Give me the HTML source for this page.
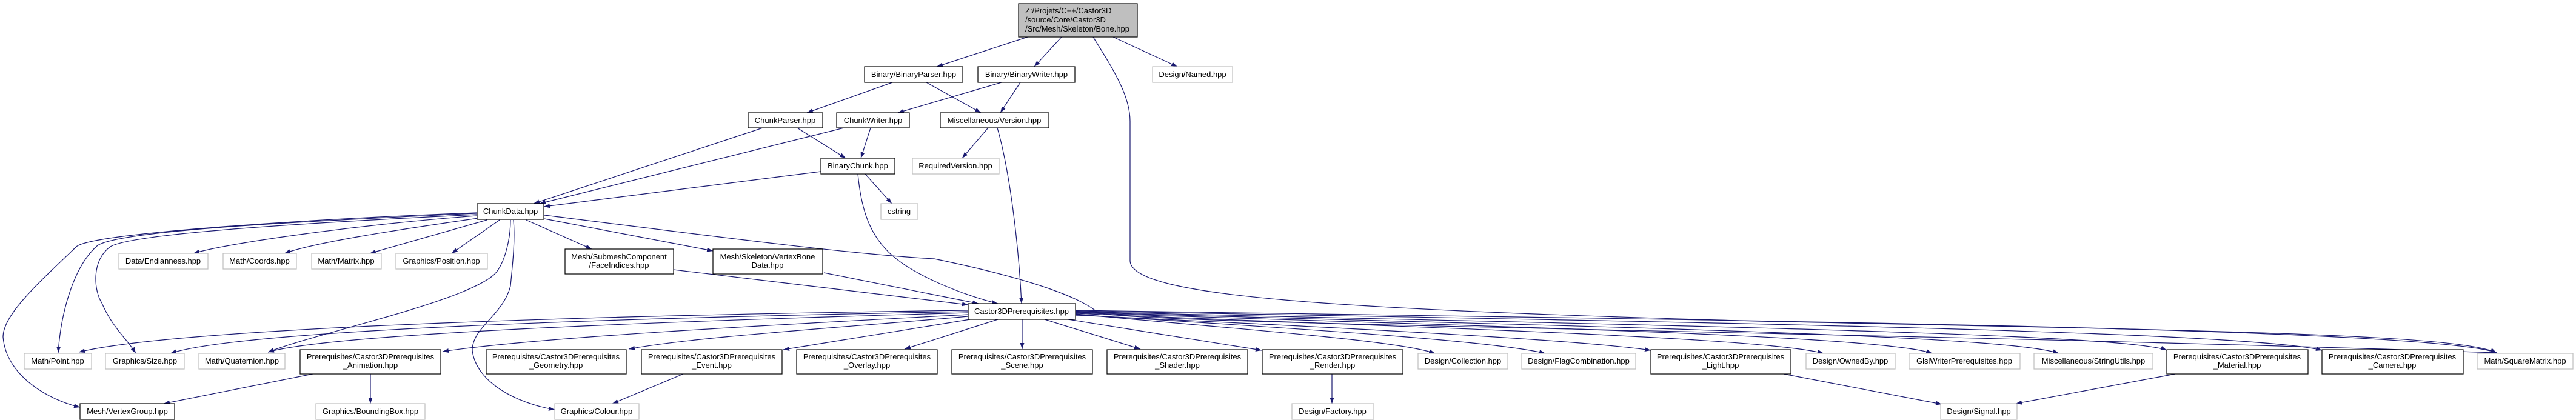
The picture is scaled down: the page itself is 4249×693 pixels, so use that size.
<!DOCTYPE html>
<html><head><meta charset="utf-8"><style>
html,body{margin:0;padding:0;background:#fff;}
svg{display:block;}
text{font-family:"Liberation Sans",Arial,sans-serif;font-size:13px;fill:#000;}
.n{fill:#fff;stroke:#000;stroke-width:1.2;}
.g{fill:#fff;stroke:#bfbfbf;stroke-width:1.2;}
.e{fill:none;stroke:#191970;stroke-width:1.2;marker-end:url(#a);}
</style></head><body>
<svg width="4249" height="693" viewBox="0 0 4249 693" xmlns="http://www.w3.org/2000/svg">
<defs><marker id="a" markerUnits="userSpaceOnUse" markerWidth="11" markerHeight="8" refX="10" refY="3.5" orient="auto"><path d="M0,0 L10,3.5 L0,7 z" fill="#191970"/></marker></defs>

<!-- edges -->
<path class="e" d="M1695,61 L1545,110"/>
<path class="e" d="M1751,61 L1706,110"/>
<path class="e" d="M1836,61 L1942,110"/>
<path class="e" d="M1803,61 C1840,120 1864,160 1864,200 L1864,430 C1864,490 2200,510 2900,530 C3600,545 4050,550 4118,582"/>
<path class="e" d="M1472,136 L1331,186"/>
<path class="e" d="M1528,136 L1618,186"/>
<path class="e" d="M1652,136 L1481,186"/>
<path class="e" d="M1683,136 L1650,186"/>
<path class="e" d="M1258,211 L880,336"/>
<path class="e" d="M1392,211 L890,336"/>
<path class="e" d="M1315,211 L1395,261"/>
<path class="e" d="M1436,211 L1420,261"/>
<path class="e" d="M1629,212 L1587,261"/>
<path class="e" d="M1645,211 C1665,280 1680,400 1685,501"/>
<path class="e" d="M1354,283 L897,341"/>
<path class="e" d="M1427,287 L1471,336"/>
<path class="e" d="M1415,287 C1420,340 1432,380 1460,410 C1500,455 1600,490 1646,501"/>
<path class="e" d="M786,356 C600,370 380,400 319,418"/>
<path class="e" d="M789,360 C650,380 520,400 469,418"/>
<path class="e" d="M803,363 L610,418"/>
<path class="e" d="M824,363 L745,418"/>
<path class="e" d="M868,363 L976,411"/>
<path class="e" d="M898,361 L1176,414"/>
<path class="e" d="M786,352 C500,365 200,380 161,405 C120,440 100,520 96,582"/>
<path class="e" d="M786,354 C500,368 220,385 182,407 C150,430 155,480 168,500 C185,540 210,560 224,583"/>
<path class="e" d="M786,351 C500,362 150,385 126,407 C60,470 5,520 5,556 C10,620 80,660 132,672"/>
<path class="e" d="M842,363 C842,400 830,440 814,454 C760,500 520,550 442,581"/>
<path class="e" d="M847,363 C850,400 845,440 842,472 C830,520 779,540 779,578 C785,630 850,665 915,676"/>
<path class="e" d="M898,355 C1100,380 1400,420 1541,427 C1700,460 1780,490 1810,515 C1830,535 3000,545 4118,582"/>
<path class="e" d="M1111,445 L1597,503"/>
<path class="e" d="M1359,450 L1614,501"/>
<path class="e" d="M1597,512 C1000,520 300,540 130,581"/>
<path class="e" d="M1597,514 C1000,525 400,545 281,583"/>
<path class="e" d="M1597,516 C1100,530 550,550 442,581"/>
<path class="e" d="M1597,519 C1300,535 900,555 730,580"/>
<path class="e" d="M1597,522 C1400,540 1150,555 1037,576"/>
<path class="e" d="M1600,527 L1292,577"/>
<path class="e" d="M1646,527 L1492,576"/>
<path class="e" d="M1686,527 L1686,576"/>
<path class="e" d="M1723,527 L1881,576"/>
<path class="e" d="M1762,527 L2081,578"/>
<path class="e" d="M1774,518 C2000,540 2300,560 2367,583"/>
<path class="e" d="M1774,519 C2100,540 2450,560 2549,583"/>
<path class="e" d="M1774,520 C2200,540 2600,560 2723,578"/>
<path class="e" d="M1774,517 C2300,540 2900,555 3008,583"/>
<path class="e" d="M1774,516 C2400,538 3100,552 3187,583"/>
<path class="e" d="M1774,515 C2500,537 3300,550 3396,583"/>
<path class="e" d="M1774,514 C2600,535 3500,548 3574,578"/>
<path class="e" d="M1774,513 C2700,530 3700,545 3830,578"/>
<path class="e" d="M1774,512 C2800,528 4000,540 4118,582"/>
<path class="e" d="M516,617 L270,666"/>
<path class="e" d="M611,617 L611,666"/>
<path class="e" d="M1127,617 L1010,666"/>
<path class="e" d="M2197,617 L2197,666"/>
<path class="e" d="M2942,617 L3203,667"/>
<path class="e" d="M3588,617 L3325,666"/>

<!-- nodes -->
<rect x="1680" y="6" width="196" height="55" fill="#bfbfbf" stroke="#000" stroke-width="1.2"/>
<text x="1691" y="22">Z:/Projets/C++/Castor3D</text>
<text x="1691" y="37">/source/Core/Castor3D</text>
<text x="1691" y="52">/Src/Mesh/Skeleton/Bone.hpp</text>

<g text-anchor="middle">
<rect class="n" x="1426" y="110" width="162" height="26"/><text x="1507" y="127">Binary/BinaryParser.hpp</text>
<rect class="n" x="1613" y="110" width="160" height="26"/><text x="1693" y="127">Binary/BinaryWriter.hpp</text>
<rect class="g" x="1901" y="110" width="132" height="26"/><text x="1967" y="127">Design/Named.hpp</text>
<rect class="n" x="1234" y="186" width="123" height="25"/><text x="1295" y="203">ChunkParser.hpp</text>
<rect class="n" x="1380" y="186" width="120" height="25"/><text x="1440" y="203">ChunkWriter.hpp</text>
<rect class="n" x="1551" y="186" width="179" height="25"/><text x="1640" y="203">Miscellaneous/Version.hpp</text>
<rect class="n" x="1354" y="261" width="122" height="26"/><text x="1415" y="278">BinaryChunk.hpp</text>
<rect class="g" x="1505" y="261" width="143" height="26"/><text x="1576" y="278">RequiredVersion.hpp</text>
<rect class="g" x="1453" y="336" width="61" height="26"/><text x="1483" y="353">cstring</text>
<rect class="n" x="787" y="336" width="110" height="26"/><text x="842" y="353">ChunkData.hpp</text>
<rect class="g" x="196" y="418" width="147" height="26"/><text x="269" y="435">Data/Endianness.hpp</text>
<rect class="g" x="368" y="418" width="121" height="26"/><text x="428" y="435">Math/Coords.hpp</text>
<rect class="g" x="514" y="418" width="115" height="26"/><text x="571" y="435">Math/Matrix.hpp</text>
<rect class="g" x="653" y="418" width="151" height="26"/><text x="728" y="435">Graphics/Position.hpp</text>
<rect class="n" x="932" y="411" width="179" height="41"/><text x="1021" y="428">Mesh/SubmeshComponent</text><text x="1021" y="442">/FaceIndices.hpp</text>
<rect class="n" x="1176" y="411" width="181" height="41"/><text x="1266" y="428">Mesh/Skeleton/VertexBone</text><text x="1266" y="442">Data.hpp</text>
<rect class="n" x="1597" y="501" width="177" height="26"/><text x="1685" y="518">Castor3DPrerequisites.hpp</text>

<rect class="g" x="40" y="583" width="111" height="26"/><text x="95" y="600">Math/Point.hpp</text>
<rect class="g" x="174" y="583" width="130" height="26"/><text x="239" y="600">Graphics/Size.hpp</text>
<rect class="g" x="328" y="583" width="142" height="26"/><text x="399" y="600">Math/Quaternion.hpp</text>
<rect class="n" x="495" y="577" width="232" height="40"/><text x="611" y="593">Prerequisites/Castor3DPrerequisites</text><text x="611" y="607">_Animation.hpp</text>
<rect class="n" x="802" y="577" width="231" height="40"/><text x="917" y="593">Prerequisites/Castor3DPrerequisites</text><text x="917" y="607">_Geometry.hpp</text>
<rect class="n" x="1058" y="577" width="232" height="40"/><text x="1174" y="593">Prerequisites/Castor3DPrerequisites</text><text x="1174" y="607">_Event.hpp</text>
<rect class="n" x="1314" y="577" width="232" height="40"/><text x="1430" y="593">Prerequisites/Castor3DPrerequisites</text><text x="1430" y="607">_Overlay.hpp</text>
<rect class="n" x="1570" y="577" width="232" height="40"/><text x="1686" y="593">Prerequisites/Castor3DPrerequisites</text><text x="1686" y="607">_Scene.hpp</text>
<rect class="n" x="1826" y="577" width="232" height="40"/><text x="1942" y="593">Prerequisites/Castor3DPrerequisites</text><text x="1942" y="607">_Shader.hpp</text>
<rect class="n" x="2082" y="577" width="232" height="40"/><text x="2198" y="593">Prerequisites/Castor3DPrerequisites</text><text x="2198" y="607">_Render.hpp</text>
<rect class="g" x="2339" y="583" width="148" height="26"/><text x="2413" y="600">Design/Collection.hpp</text>
<rect class="g" x="2510" y="583" width="188" height="26"/><text x="2604" y="600">Design/FlagCombination.hpp</text>
<rect class="n" x="2723" y="577" width="231" height="40"/><text x="2838" y="593">Prerequisites/Castor3DPrerequisites</text><text x="2838" y="607">_Light.hpp</text>
<rect class="g" x="2979" y="583" width="147" height="26"/><text x="3052" y="600">Design/OwnedBy.hpp</text>
<rect class="g" x="3149" y="583" width="183" height="26"/><text x="3240" y="600">GlslWriterPrerequisites.hpp</text>
<rect class="g" x="3355" y="583" width="196" height="26"/><text x="3453" y="600">Miscellaneous/StringUtils.hpp</text>
<rect class="n" x="3574" y="577" width="233" height="40"/><text x="3690" y="593">Prerequisites/Castor3DPrerequisites</text><text x="3690" y="607">_Material.hpp</text>
<rect class="n" x="3830" y="577" width="233" height="40"/><text x="3946" y="593">Prerequisites/Castor3DPrerequisites</text><text x="3946" y="607">_Camera.hpp</text>
<rect class="g" x="4086" y="583" width="158" height="26"/><text x="4165" y="600">Math/SquareMatrix.hpp</text>

<rect class="n" x="132" y="666" width="156" height="26"/><text x="210" y="683">Mesh/VertexGroup.hpp</text>
<rect class="g" x="521" y="666" width="180" height="26"/><text x="611" y="683">Graphics/BoundingBox.hpp</text>
<rect class="g" x="915" y="666" width="139" height="26"/><text x="984" y="683">Graphics/Colour.hpp</text>
<rect class="g" x="2131" y="666" width="135" height="26"/><text x="2198" y="683">Design/Factory.hpp</text>
<rect class="g" x="3201" y="666" width="126" height="26"/><text x="3264" y="683">Design/Signal.hpp</text>
</g>
</svg>
</body></html>
